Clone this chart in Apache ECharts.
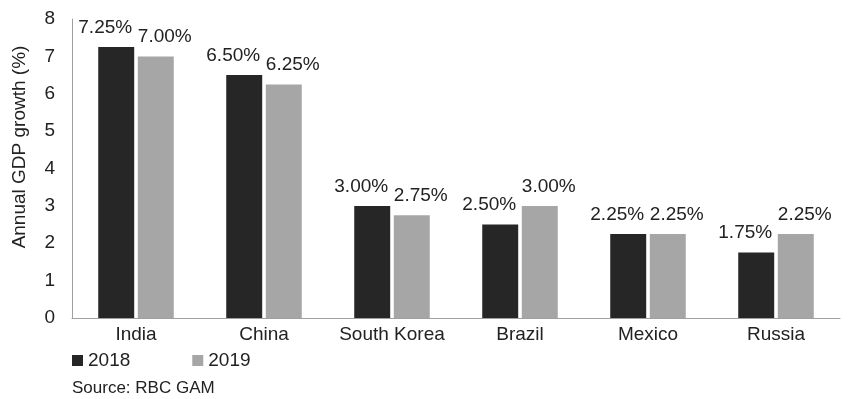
<!DOCTYPE html>
<html>
<head>
<meta charset="utf-8">
<script src="https://cdn.jsdelivr.net/npm/echarts@6/dist/echarts.min.js"></script>
<style>html,body{margin:0;padding:0;background:#fff}#c{width:848px;height:399px}</style>
</head>
<body>
<div id="c"></div>
<script>
const categories = ['India', 'China', 'South Korea', 'Brazil', 'Mexico', 'Russia'];
const values2018 = [7.25, 6.50, 3.00, 2.50, 2.25, 1.75];
const values2019 = [7.00, 6.25, 2.75, 3.00, 2.25, 2.25];
const seriesNames = ['2018', '2019'];
const yTicks = { min: 0, max: 8, interval: 1 };

const FONT = '"Liberation Sans", Arial, sans-serif';
const TXT = '#222222';
const FS = 19;
const chart = echarts.init(document.getElementById('c'), null, { renderer: 'canvas' });

const labelCfg = (dx) => ({
  show: true, position: 'top', distance: 10, offset: [dx, 0],
  fontFamily: FONT, fontSize: FS, color: TXT,
  formatter: p => p.value.toFixed(2) + '%'
});

chart.setOption({
  animation: false,
  backgroundColor: '#fff',
  grid: { left: 72, right: 8, top: 19, bottom: 81, containLabel: false },
  legend: {
    left: 72, top: 351, padding: 0, icon: 'rect', itemWidth: 11, itemHeight: 11, itemGap: 62,
    textStyle: { fontFamily: FONT, fontSize: FS, color: TXT },
    data: seriesNames
  },
  graphic: [
    { type: 'text', x: 20, y: 147, rotation: Math.PI / 2,
      style: { text: 'Annual GDP growth (%)', font: FS + 'px ' + FONT, fill: TXT, align: 'center', verticalAlign: 'middle' } },
    { type: 'text', x: 72, y: 388,
      style: { text: 'Source: RBC GAM', font: '17px ' + FONT, fill: TXT, align: 'left', verticalAlign: 'middle' } }
  ],
  xAxis: {
    type: 'category', data: categories,
    axisLine: { show: true, lineStyle: { color: '#a0a0a0', width: 1 } },
    axisTick: { show: false },
    axisLabel: { margin: 7, fontFamily: FONT, fontSize: FS, color: TXT, interval: 0 }
  },
  yAxis: {
    type: 'value', min: yTicks.min, max: yTicks.max, interval: yTicks.interval,
    splitLine: { show: false },
    axisLine: { show: true, lineStyle: { color: '#a0a0a0', width: 1 } },
    axisTick: { show: false },
    axisLabel: { margin: 17, fontFamily: FONT, fontSize: FS, color: TXT }
  },
  series: [
    { name: seriesNames[0], type: 'bar', data: values2018, barCategoryGap: '41%', barGap: '10%',
      itemStyle: { color: '#262626' }, label: labelCfg(-11) },
    { name: seriesNames[1], type: 'bar', data: values2019, barCategoryGap: '41%', barGap: '10%',
      itemStyle: { color: '#a6a6a6' }, label: labelCfg(9) }
  ]
});
</script>
</body>
</html>
